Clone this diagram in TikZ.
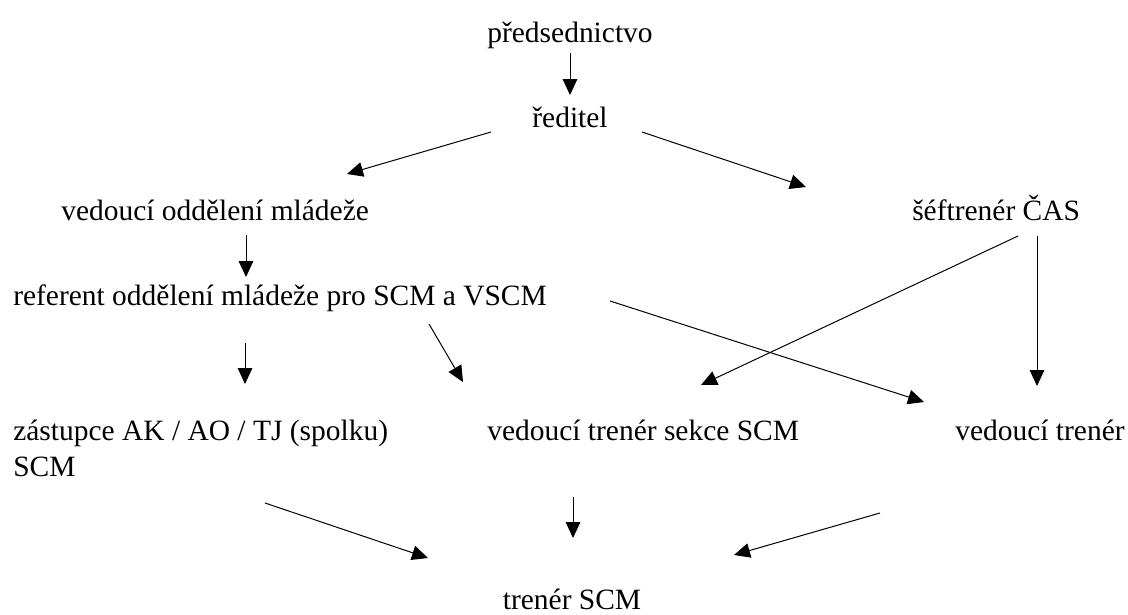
\documentclass[tikz,border=0pt]{standalone}
\usepackage{fontspec}
\setmainfont{Liberation Serif}
\usetikzlibrary{arrows.meta}

\begin{document}
\begin{tikzpicture}[x=0.75pt,y=-0.75pt,
  every node/.style={inner sep=0pt,font=\fontsize{22.1}{27}\selectfont},
  lbl/.style={anchor=base west},
  arr/.style={line width=0.75pt,-{Triangle[length=12pt,width=11pt]}}]
\useasboundingbox (0,0) rectangle (1128,614);
% texty
\node[anchor=base] (pred) at (570,42) {předsednictvo};
\node[anchor=base] (red) at (570,127) {ředitel};
\node[lbl] (vom) at (61,220) {vedoucí oddělení mládeže};
\node[lbl] (sef) at (912,220) {šéftrenér ČAS};
\node[lbl] (ref) at (13,305) {referent oddělení mládeže pro SCM a VSCM};
\node[lbl,align=left] (zas) at (13,476) {zástupce AK / AO / TJ (spolku)\\SCM};
\node[lbl] (sek) at (487,440) {vedoucí trenér sekce SCM};
\node[lbl] (vt) at (955,440) {vedoucí trenér};
\node[anchor=base] (trn) at (572,609) {trenér SCM};
% sipky
\coordinate (a1) at (570,53);   \coordinate (b1) at (570,95);
\coordinate (a2) at (491,132);  \coordinate (b2) at (347,174);
\coordinate (a3) at (642,132);  \coordinate (b3) at (806,187);
\coordinate (a4) at (246,235);  \coordinate (b4) at (246,277);
\coordinate (a5) at (1018,236); \coordinate (b5) at (701,385);
\coordinate (a6) at (1037,236); \coordinate (b6) at (1037,386);
\coordinate (a7) at (610,301);  \coordinate (b7) at (924,402);
\coordinate (a8) at (429,324);  \coordinate (b8) at (463,382);
\coordinate (a9) at (245,343);  \coordinate (b9) at (245,384);
\coordinate (a10) at (265,503); \coordinate (b10) at (428,558);
\coordinate (a11) at (573,497); \coordinate (b11) at (573,538);
\coordinate (a12) at (880,513); \coordinate (b12) at (734,555);
\foreach \i in {1,...,12} \draw[arr] (a\i) -- (b\i);
\end{tikzpicture}
\end{document}
